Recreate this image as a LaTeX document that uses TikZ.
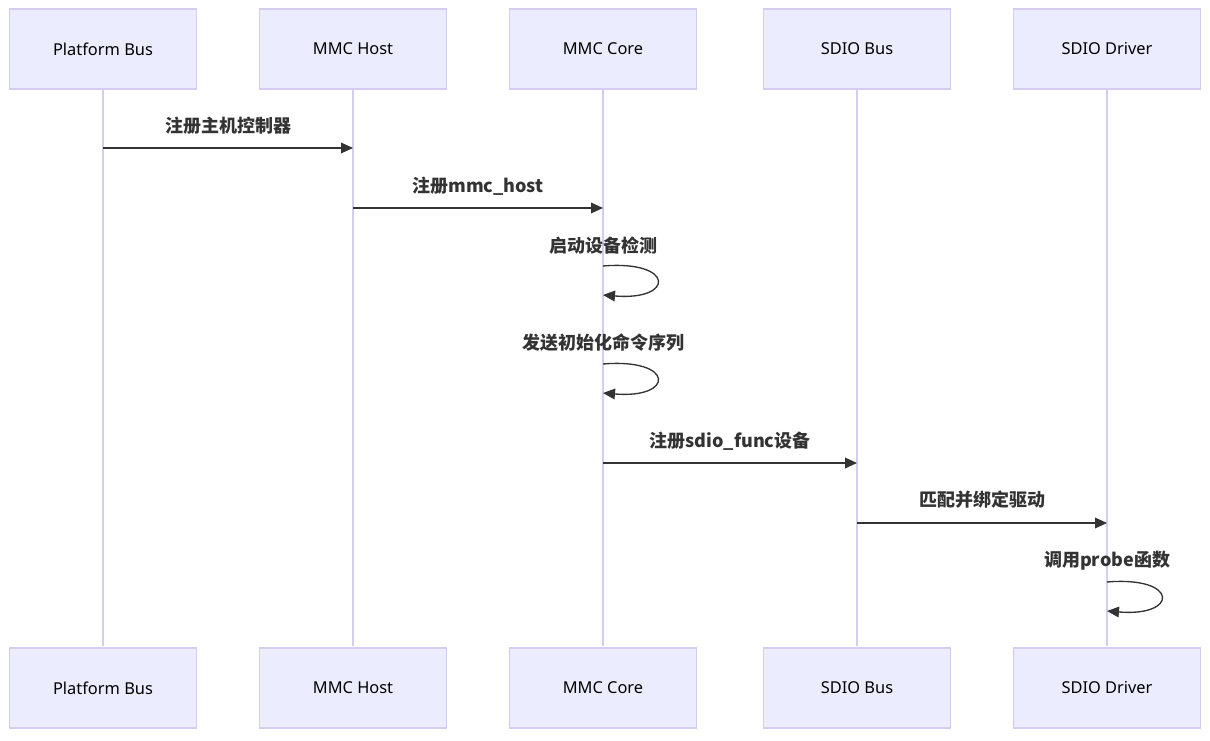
\documentclass[tikz,border=0pt]{standalone}
\usepackage{fontspec}
\setmainfont{Noto Sans}
\newfontfamily\cjk{Noto Sans CJK SC}
\usetikzlibrary{arrows.meta}
\definecolor{boxfill}{HTML}{ECECFF}
\definecolor{boxline}{HTML}{D6CCF2}
\definecolor{ink}{HTML}{333333}
\begin{document}
\begin{tikzpicture}[x=0.75pt,y=-0.75pt,
  actor/.style={draw=boxline,fill=boxfill,line width=0.8pt,minimum width=140.25pt,minimum height=60pt,inner sep=0pt,font=\fontsize{12.3}{14}\selectfont,text=black},
  life/.style={draw=boxline,line width=1.2pt},
  msg/.style={draw=ink,line width=1pt,-{Triangle[length=9pt,width=8pt]}},
  lbl/.style={font=\cjk\bfseries\fontsize{13.5}{15}\selectfont,text=ink}]
\useasboundingbox (0,0) rectangle (1210,741);
\foreach \n/\x/\t in {a/103/Platform Bus,b/353/MMC Host,c/603/MMC Core,d/857/SDIO Bus,e/1107/SDIO Driver}{
  \draw[life] (\x,88) -- (\x,646);
  \node[actor] (\n t) at (\x,49) {\t};
  \node[actor] (\n b) at (\x,688) {\t};
}
\coordinate (m1s) at (103,148); \coordinate (m1e) at (353,148);
\draw[msg] (m1s) -- (m1e);
\node[lbl] (l1) at (228,126) {注册主机控制器};
\coordinate (m2s) at (353,208); \coordinate (m2e) at (603,208);
\draw[msg] (m2s) -- (m2e);
\node[lbl] (l2) at (478,186) {注册mmc\_host};
\coordinate (s1a) at (603,266); \coordinate (s1b) at (603,295);
\draw[msg] (s1a) .. controls (675,260) and (675,301) .. (s1b);
\node[lbl] (l3) at (603,246) {启动设备检测};
\coordinate (s2a) at (603,364); \coordinate (s2b) at (603,393);
\draw[msg] (s2a) .. controls (675,358) and (675,399) .. (s2b);
\node[lbl] (l4) at (603,343) {发送初始化命令序列};
\coordinate (m3s) at (603,463); \coordinate (m3e) at (857,463);
\draw[msg] (m3s) -- (m3e);
\node[lbl] (l5) at (730,441) {注册sdio\_func设备};
\coordinate (m4s) at (857,523); \coordinate (m4e) at (1107,523);
\draw[msg] (m4s) -- (m4e);
\node[lbl] (l6) at (982,500) {匹配并绑定驱动};
\coordinate (s3a) at (1107,582); \coordinate (s3b) at (1107,611);
\draw[msg] (s3a) .. controls (1179,576) and (1179,617) .. (s3b);
\node[lbl] (l7) at (1107,561) {调用probe函数};
\end{tikzpicture}
\end{document}
